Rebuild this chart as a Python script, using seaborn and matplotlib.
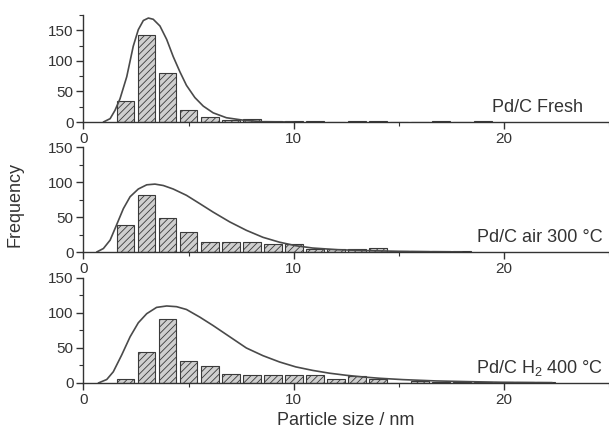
import numpy as np
import pandas as pd
import matplotlib
matplotlib.use('Agg')
import matplotlib.pyplot as plt
import seaborn as sns
from matplotlib.ticker import MultipleLocator

# Histogram counts (bin centres in nm)
sizes_fresh = list(range(2, 20))
counts_fresh = [34, 142, 80, 19, 8, 3, 5, 2, 1, 1, 0, 1, 1, 0, 0, 1, 0, 1]

sizes_air = list(range(2, 19))
counts_air = [39, 81, 49, 28, 15, 15, 15, 11, 12, 5, 5, 5, 6, 1, 1, 1, 1]

sizes_h2 = list(range(2, 23))
counts_h2 = [6, 44, 91, 31, 24, 13, 12, 12, 11, 12, 5, 10, 5, 0, 3, 1, 1, 1, 1, 1, 2]

# Fitted distribution curves
fit_fresh_x = [0.95, 1.27, 1.5, 1.74, 2.06, 2.37, 2.61, 2.85, 3.09, 3.32, 3.64, 3.96,
               4.27, 4.59, 4.9, 5.3, 5.7, 6.17, 6.8, 7.6, 8.5, 10.0]
fit_fresh_y = [0, 5.5, 19, 38, 74, 124, 151, 166, 170, 168, 157, 135,
               107, 82, 60, 40, 26, 15, 7, 3, 0.5, 0]

fit_air_x = [0.63, 0.95, 1.27, 1.58, 1.9, 2.22, 2.61, 3.01, 3.4, 3.8, 4.27, 4.9, 5.54,
             6.17, 6.96, 7.75, 8.54, 9.33, 10.1, 10.9, 12.1, 13.5, 15.0, 16.5, 18.0]
fit_air_y = [0, 5, 17, 39, 62, 79, 90, 96, 97, 95, 90, 81, 69,
             57, 43, 31, 21, 14, 9, 5.7, 3.3, 2, 1, 0.5, 0.2]

fit_h2_x = [0.71, 1.11, 1.42, 1.82, 2.22, 2.61, 3.01, 3.48, 3.96, 4.43, 4.9, 5.54, 6.17,
            6.96, 7.75, 8.54, 9.33, 10.1, 10.9, 11.7, 12.5, 13.3, 14.1, 15.2, 16.8,
            18.35, 19.9, 22.3]
fit_h2_y = [0, 5, 16, 40, 66, 86, 99, 108, 110, 109, 105, 94, 82,
            66, 50, 39, 30, 23, 18, 14, 11, 8.6, 6.7, 4.8, 2.9,
            1.9, 1, 0.5]

labels = ['Pd/C Fresh', 'Pd/C air 300 °C', 'Pd/C H$_2$ 400 °C']
ymax = [175, 150, 150]

sns.set_style('ticks')
plt.rcParams['font.family'] = ['Liberation Sans', 'DejaVu Sans']
plt.rcParams['mathtext.default'] = 'regular'
plt.rcParams['hatch.linewidth'] = 0.6

ink = '#333333'
fig = plt.figure(figsize=(6.09, 4.37), dpi=100)
boxes = [[0.137, 0.7208, 0.863, 0.2449],
         [0.137, 0.4233, 0.863, 0.2403],
         [0.137, 0.1236, 0.863, 0.2403]]

panels = [(sizes_fresh, counts_fresh, fit_fresh_x, fit_fresh_y),
          (sizes_air, counts_air, fit_air_x, fit_air_y),
          (sizes_h2, counts_h2, fit_h2_x, fit_h2_y)]

for i, (sz, cnt, fx, fy) in enumerate(panels):
    ax = fig.add_axes(boxes[i])
    df = pd.DataFrame({'size': sz, 'count': cnt})
    sns.histplot(data=df, x='size', weights='count', discrete=True, shrink=0.85,
                 ax=ax, color='#cfcfcf', edgecolor='#3a3a3a', linewidth=0.8,
                 hatch='/////', alpha=1)
    fit = pd.DataFrame({'x': fx, 'y': fy})
    sns.lineplot(data=fit, x='x', y='y', ax=ax, color='#4a4a4a', linewidth=1.2)
    ax.set_xlim(0, 25)
    ax.set_ylim(0, ymax[i])
    ax.xaxis.set_major_locator(MultipleLocator(10))
    ax.xaxis.set_minor_locator(MultipleLocator(5))
    ax.yaxis.set_major_locator(MultipleLocator(50))
    ax.yaxis.set_minor_locator(MultipleLocator(25))
    ax.tick_params(which='major', direction='out', length=5, width=1, color=ink,
                   labelsize=11, labelcolor=ink, pad=2)
    ax.tick_params(which='minor', direction='out', length=3, width=0.8, color=ink)
    ax.set_xlabel('')
    ax.set_ylabel('')
    for s in ['top', 'right']:
        ax.spines[s].set_visible(False)
    for s in ['left', 'bottom']:
        ax.spines[s].set_color(ink)
        ax.spines[s].set_linewidth(1)
    xr = 0.951 if i == 0 else 0.988
    ax.text(xr, 0.14, labels[i], transform=ax.transAxes, ha='right', va='center',
            fontsize=13, color=ink)

fig.text(0.025, 0.531, 'Frequency', rotation=90, ha='center', va='center',
         fontsize=13, color=ink)
fig.text(0.568, 0.037, 'Particle size / nm', ha='center', va='center',
         fontsize=13, color=ink)

fig.savefig('out.png', dpi=100)
